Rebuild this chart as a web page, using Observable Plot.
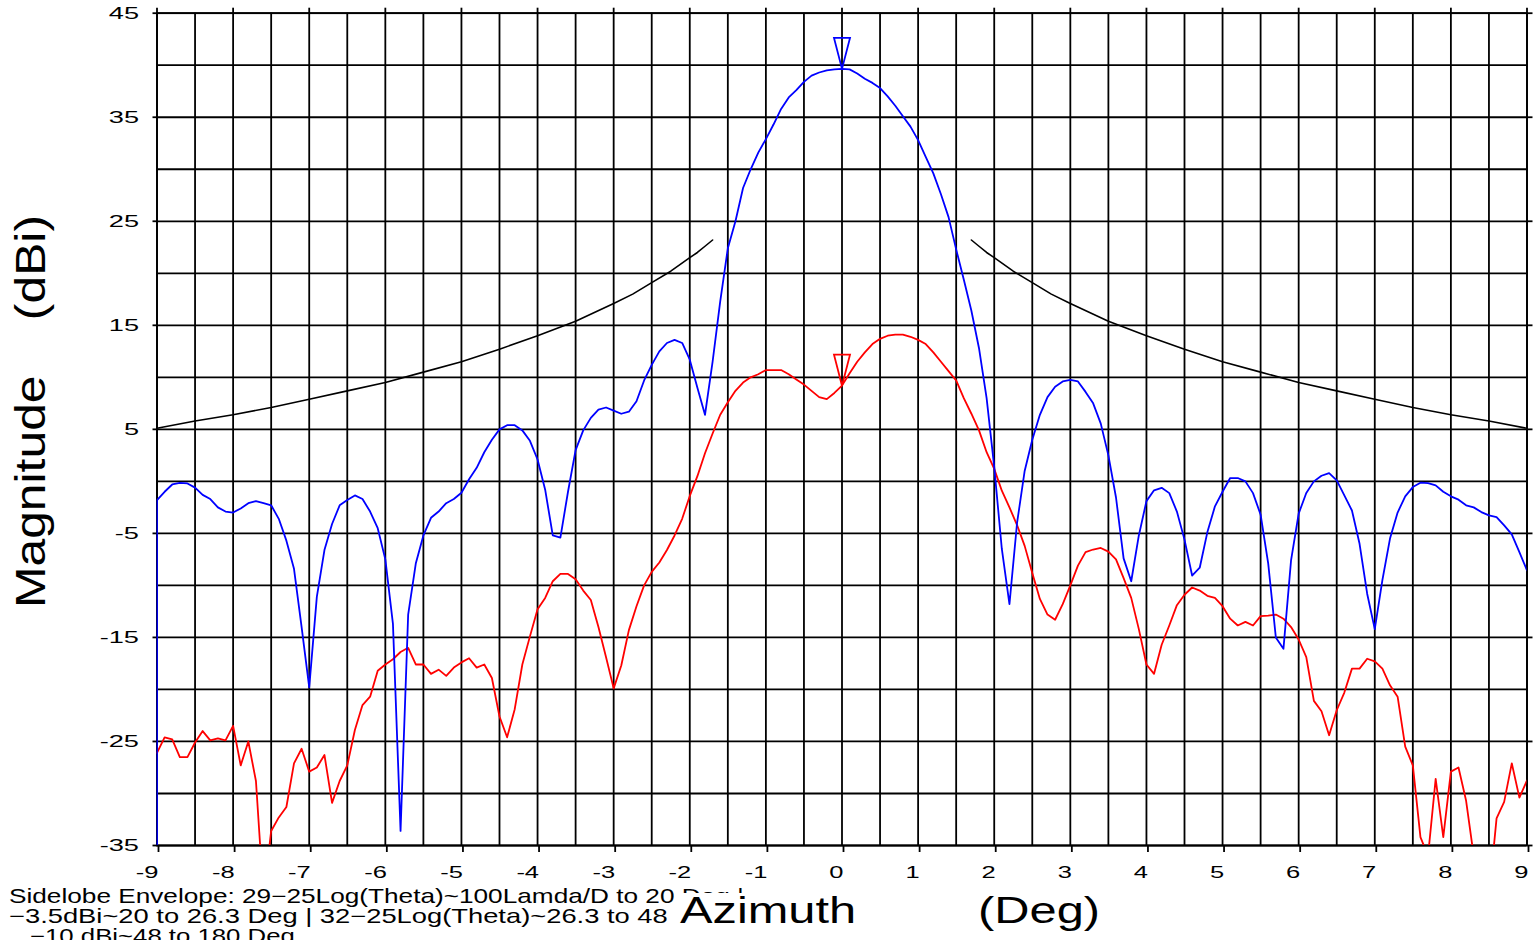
<!DOCTYPE html>
<html>
<head>
<meta charset="utf-8">
<script src="https://cdn.jsdelivr.net/npm/d3@7"></script>
<script src="https://cdn.jsdelivr.net/npm/@observablehq/plot@0.6"></script>
<style>
  html, body { margin: 0; padding: 0; background: #fff; }
  svg text { white-space: pre; }
</style>
</head>
<body>
<div id="chart"></div>
<script>
// Azimuth cut, sampled every 0.1 degree from -9 to +9
const azimuth = d3.range(-90, 91).map(i => i / 10);

// Co-polar pattern (dBi), blue trace
const mainBeam = [
  -1.8, -1.0, -0.3, -0.15, -0.2, -0.6, -1.3, -1.7, -2.5, -2.9,
  -3.0, -2.6, -2.1, -1.9, -2.1, -2.3, -3.6, -5.7, -8.4, -14.0,
  -19.8, -11.1, -6.6, -4.1, -2.3, -1.8, -1.35, -1.7, -2.9, -4.5,
  -7.5, -13.7, -33.6, -12.8, -7.9, -5.2, -3.5, -2.9, -2.1, -1.7,
  -1.1, 0.2, 1.3, 2.8, 4.0, 5.0, 5.4, 5.4, 4.9, 3.9,
  2.1, -0.8, -5.2, -5.4, -1.0, 3.0, 4.9, 6.1, 6.9, 7.1,
  6.8, 6.5, 6.7, 7.7, 9.7, 11.2, 12.5, 13.3, 13.6, 13.3,
  11.7, 9.0, 6.4, 11.5, 17.3, 22.4, 25.0, 28.2, 30.0, 31.6,
  32.9, 34.3, 35.8, 36.9, 37.6, 38.4, 39.0, 39.3, 39.5, 39.6,
  39.65,
  39.6, 39.2, 38.7, 38.3, 37.8, 37.0, 36.1, 35.1, 34.1, 32.8,
  31.2, 29.6, 27.6, 25.4, 22.3, 19.4, 16.4, 12.8, 8.0, 1.4,
  -6.5, -11.8, -4.0, 1.0, 4.0, 6.4, 8.1, 9.1, 9.6, 9.75,
  9.6, 8.6, 7.5, 5.55, 2.5, -1.55, -7.4, -9.6, -5.2, -1.9,
  -0.86, -0.62, -1.13, -2.9, -5.6, -9.05, -8.3, -4.9, -2.4, -1.0,
  0.32, 0.32, 0.0, -1.13, -3.2, -7.9, -15.0, -16.1, -7.6, -3.1,
  -1.12, 0.0, 0.54, 0.8, 0.1, -1.35, -2.8, -6.0, -10.8, -14.2,
  -9.5, -5.5, -3.0, -1.44, -0.55, -0.13, -0.16, -0.38, -1.0, -1.44,
  -1.76, -2.3, -2.5, -2.95, -3.27, -3.43, -4.23, -5.1, -6.8, -8.56
];

// Cross-polar pattern (dBi), red trace
const crossPol = [
  -26.1, -24.6, -24.8, -26.5, -26.5, -25.1, -24.0, -24.9, -24.7, -24.9,
  -23.5, -27.3, -25.0, -28.8, -40.0, -33.6, -32.3, -31.3, -27.1, -25.7,
  -27.9, -27.5, -26.3, -30.9, -28.8, -27.3, -23.9, -21.5, -20.7, -18.2,
  -17.6, -17.1, -16.4, -16.0, -17.6, -17.6, -18.5, -18.1, -18.7, -17.9,
  -17.4, -17.0, -17.9, -17.6, -18.9, -22.6, -24.6, -21.9, -17.6, -14.9,
  -12.3, -11.2, -9.6, -8.9, -8.9, -9.4, -10.5, -11.4, -14.0, -16.9,
  -19.9, -17.7, -14.3, -12.0, -10.0, -8.7, -7.8, -6.6, -5.2, -3.6,
  -1.4, 0.5, 2.7, 4.6, 6.4, 7.6, 8.7, 9.5, 10.0, 10.3,
  10.7, 10.7, 10.7, 10.3, 9.8, 9.3, 8.7, 8.1, 7.9, 8.5,
  9.2,
  10.4, 11.5, 12.4, 13.2, 13.7, 14.0, 14.1, 14.1, 13.9, 13.6,
  13.2, 12.4, 11.5, 10.6, 9.7, 8.0, 6.5, 4.9, 2.8, 1.2,
  -0.9, -2.5, -4.2, -6.2, -8.8, -11.3, -12.8, -13.3, -11.8, -10.0,
  -8.1, -6.8, -6.55, -6.4, -6.75, -7.5, -9.3, -11.2, -14.2, -17.6,
  -18.5, -15.7, -13.85, -11.9, -10.9, -10.2, -10.5, -11.0, -11.2, -12.0,
  -13.2, -13.85, -13.5, -13.85, -12.95, -12.9, -12.8, -13.2, -14.0, -15.2,
  -16.9, -21.1, -22.1, -24.4, -22.0, -20.3, -18.0, -18.0, -17.05, -17.3,
  -18.0, -19.6, -20.7, -25.5, -27.3, -34.2, -36.0, -28.6, -34.2, -27.9,
  -27.5, -30.7, -36.0, -40.0, -40.0, -32.4, -30.8, -27.1, -30.4, -28.75
];

// Sidelobe envelope (dBi), drawn outside the main lobe on each side
const envLeftAz  = [-9, -8.5, -8, -7.5, -7, -6.5, -6, -5.5, -5, -4.5, -4, -3.5, -3, -2.75, -2.5, -2.25, -2, -1.9, -1.8, -1.7];
const envLeftDb  = [5.1, 5.8, 6.4, 7.1, 7.9, 8.7, 9.5, 10.5, 11.5, 12.7, 14.0, 15.4, 17.1, 18.0, 19.1, 20.2, 21.5, 22.0, 22.6, 23.2];
const envRightAz = [1.7, 1.8, 1.9, 2, 2.25, 2.5, 2.75, 3, 3.5, 4, 4.5, 5, 5.5, 6, 6.5, 7, 7.5, 8, 8.5, 9];
const envRightDb = [23.2, 22.6, 22.0, 21.5, 20.2, 19.1, 18.0, 17.1, 15.4, 14.0, 12.7, 11.5, 10.5, 9.5, 8.7, 7.9, 7.1, 6.4, 5.8, 5.1];

// Axes
const xTicks = [-9, -8, -7, -6, -5, -4, -3, -2, -1, 0, 1, 2, 3, 4, 5, 6, 7, 8, 9];
const xGrid = [-9, -8.5, -8, -7.5, -7, -6.5, -6, -5.5, -5, -4.5, -4, -3.5, -3, -2.5, -2, -1.5, -1, -0.5,
               0, 0.5, 1, 1.5, 2, 2.5, 3, 3.5, 4, 4.5, 5, 5.5, 6, 6.5, 7, 7.5, 8, 8.5, 9];
const yTicks = [45, 35, 25, 15, 5, -5, -15, -25, -35];
const yGrid = [-35, -30, -25, -20, -15, -10, -5, 0, 5, 10, 15, 20, 25, 30, 35, 40, 45];

// Titles and notes
const xTitle = "Azimuth         (Deg)";
const yTitle = "Magnitude    (dBi)";
const noteLines = [
  "Sidelobe Envelope: 29−25Log(Theta)~100Lamda/D to 20 Deg |",
  "−3.5dBi~20 to 26.3 Deg | 32−25Log(Theta)~26.3 to 48 Deg |",
  "−10 dBi~48 to 180 Deg"
];

const BLUE = "#0000ff", RED = "#ff0000";
const FONT = "'Liberation Sans', Arial, Helvetica, sans-serif";

const mainRows = azimuth.map((az, i) => ({az, db: mainBeam[i]}));
const crossRows = azimuth.map((az, i) => ({az, db: crossPol[i]}));
// the co-polar trace rises from the floor of the scale at the first sample
const yFloor = d3.min(yGrid);
const mainTrace = [{az: azimuth[0], db: yFloor}, ...mainRows];
const envLeft = envLeftAz.map((az, i) => ({az, db: envLeftDb[i]}));
const envRight = envRightAz.map((az, i) => ({az, db: envRightDb[i]}));

// Boresight markers sit on each trace's value at 0 degrees
const i0 = azimuth.indexOf(0);
const markers = [
  {az: 0, db: mainBeam[i0], color: BLUE},
  {az: 0, db: crossPol[i0], color: RED}
];

// Tall, narrow downward-pointing triangle whose tip is the anchor point
const peakMarker = {
  draw(ctx, size) {
    const r = Math.sqrt(size / Math.PI);
    const hw = 0.8 * r, h = 3.1 * r;
    ctx.moveTo(0, 0);
    ctx.lineTo(-hw, -h);
    ctx.lineTo(hw, -h);
    ctx.closePath();
  }
};

const gridStyle = {stroke: "black", strokeOpacity: 1, strokeWidth: 1.8};

const chart = Plot.plot({
  width: 1534,
  height: 940,
  marginLeft: 156.5,
  marginRight: 7.5,
  marginTop: 12.7,
  marginBottom: 95,
  x: {domain: [-9, 9]},
  y: {domain: [-35, 45]},
  style: {fontFamily: FONT, fontSize: "17px", color: "black", background: "white"},
  marks: [
    Plot.gridX(xGrid, gridStyle),
    Plot.gridY(yGrid, gridStyle),
    Plot.frame({stroke: "black", strokeWidth: 1.8}),
    Plot.axisX(xTicks, {anchor: "bottom", tickSize: 7, tickPadding: 13, strokeWidth: 1.8,
                        textAnchor: "end", dx: 1.5, label: null, tickFormat: d => String(d)}),
    Plot.axisX(xTicks, {anchor: "top", tickSize: 6, strokeWidth: 1.8, label: null, tickFormat: () => ""}),
    Plot.axisY(yTicks, {anchor: "left", tickSize: 4, tickPadding: 14, strokeWidth: 1.8,
                        label: null, tickFormat: d => String(d)}),
    Plot.axisY(yTicks, {anchor: "right", tickSize: 5, strokeWidth: 1.8, label: null, tickFormat: () => ""}),
    Plot.line(envLeft, {x: "az", y: "db", stroke: "black", strokeWidth: 1.6}),
    Plot.line(envRight, {x: "az", y: "db", stroke: "black", strokeWidth: 1.6}),
    Plot.line(crossRows, {x: "az", y: "db", stroke: RED, strokeWidth: 1.8, clip: true}),
    Plot.line(mainTrace, {x: "az", y: "db", stroke: BLUE, strokeWidth: 1.8, clip: true}),
    Plot.dot(markers, {x: "az", y: "db", symbol: peakMarker, r: 10, fill: "none",
                       stroke: "color", strokeWidth: 1.8})
  ]
});

document.getElementById("chart").append(chart);
const svg = d3.select(chart);

// Widen tick labels horizontally about their anchor points
function stretchX(selection, sx) {
  selection.each(function () {
    const x = +this.getAttribute("x") || 0;
    const y = +this.getAttribute("y") || 0;
    const t = this.getAttribute("transform") || "";
    this.setAttribute("transform", `${t} translate(${x},${y}) scale(${sx},1) translate(${-x},${-y})`);
  });
}
stretchX(svg.selectAll('g[aria-label="x-axis tick label"] text'), 1.5);
stretchX(svg.selectAll('g[aria-label="y-axis tick label"] text'), 1.6);

// Notes under the plot, fitted to their printed widths
const noteFits = [
  {x: 9, y: 903, upto: "to 20", right: 675},
  {x: 9, y: 923, upto: "to 48", right: 668},
  {x: 30, y: 943, upto: "Deg", right: 295}
];
const notes = svg.append("g").attr("text-anchor", "start");
noteLines.forEach((line, k) => {
  const f = noteFits[k];
  const t = notes.append("text")
    .attr("font-family", FONT)
    .attr("font-size", 20)
    .attr("fill", "black")
    .attr("text-anchor", "start")
    .attr("transform", `translate(${f.x},${f.y})`)
    .text(line);
  const n = line.indexOf(f.upto) + f.upto.length;
  const w = t.node().getSubStringLength(0, n);
  t.attr("transform", `translate(${f.x},${f.y}) scale(${(f.right - f.x) / w},1)`);
});

// Azimuth title on an opaque box
svg.append("rect").attr("x", 676).attr("y", 893).attr("width", 440).attr("height", 47).attr("fill", "white");
svg.append("text")
  .attr("font-family", FONT)
  .attr("font-size", 36)
  .attr("fill", "black")
  .attr("text-anchor", "start")
  .attr("x", 680).attr("y", 923)
  .attr("textLength", 420)
  .attr("lengthAdjust", "spacingAndGlyphs")
  .text(xTitle);

// Magnitude title, rotated
svg.append("text")
  .attr("font-family", FONT)
  .attr("font-size", 42)
  .attr("fill", "black")
  .attr("text-anchor", "start")
  .attr("transform", "translate(45,608) rotate(-90)")
  .attr("textLength", 393)
  .attr("lengthAdjust", "spacingAndGlyphs")
  .text(yTitle);
</script>
</body>
</html>
